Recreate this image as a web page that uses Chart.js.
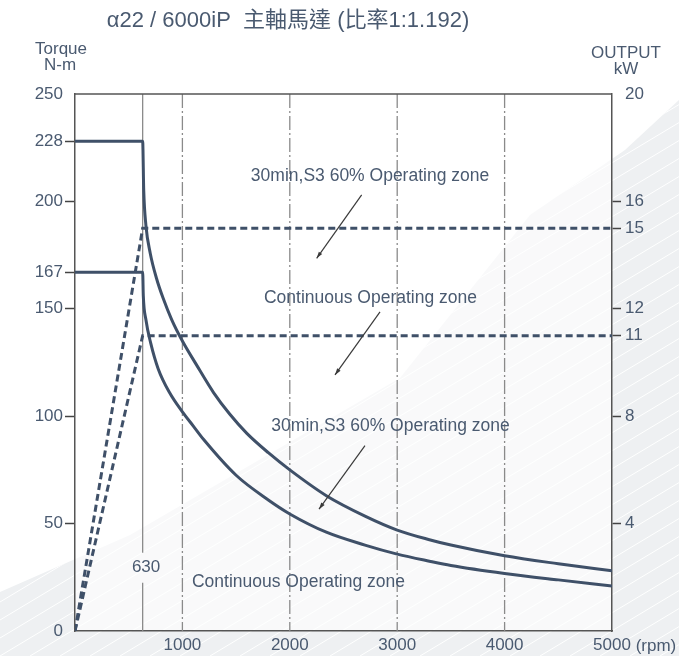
<!DOCTYPE html>
<html>
<head>
<meta charset="utf-8">
<script src="https://cdn.jsdelivr.net/npm/chart.js@4.4.1/dist/chart.umd.min.js"></script>
<style>
html,body{margin:0;padding:0;background:#fff;}
#wrap{width:679px;height:656px;position:relative;}
canvas{display:block;}
</style>
</head>
<body>
<div id="wrap"><canvas id="c" width="679" height="656"></canvas></div>
<script>
// ---- text ----
const titleText = 'α22 / 6000iP  主軸馬達 (比率1:1.192)';
const leftAxisTitle = ['Torque', 'N-m'];
const rightAxisTitle = ['OUTPUT', 'kW'];
const xUnit = '(rpm)';

// ---- ticks ----
const rpmTicks = [1000, 2000, 3000, 4000, 5000];
const torqueTicks = [0, 50, 100, 150, 167, 200, 228, 250];
const powerTicks = [4, 8, 11, 12, 15, 16, 20];

// ---- series: torque (N-m) vs speed (rpm) ----
const s3Rpm    = [0, 630, 640, 660, 700, 760, 820, 900, 1000, 1130, 1290, 1440, 1600, 1800, 2000, 2340, 2700, 3000, 3300, 3500, 4000, 4500, 5000];
const s3Torque = [228, 228, 205, 189, 176, 164, 155, 145, 135, 124, 111, 101, 92, 83, 75, 63, 53.5, 47, 42.5, 40, 35, 31.3, 28];

const contRpm    = [0, 630, 636, 660, 705, 775, 880, 1000, 1100, 1200, 1500, 1800, 2000, 2340, 2700, 3000, 3300, 3500, 4000, 4500, 5000];
const contTorque = [167, 167, 156, 145, 134, 122, 111, 102, 95.5, 89, 72.5, 61, 54.5, 46, 40, 35.8, 32.5, 30.5, 26.8, 23.8, 21];

// ---- series: output (kW) vs speed (rpm) ----
const s3PowerRpm   = [0, 630, 5000];
const s3Power      = [0, 15, 15];
const contPowerRpm = [0, 630, 5000];
const contPower    = [0, 11, 11];

// ---- reference lines ----
const baseRpm = 630;
const gridRpm = [1000, 2000, 3000, 4000];

// ---- annotations (data units: rpm, N-m) ----
const noteTexts  = ['30min,S3 60% Operating zone', 'Continuous Operating zone', '30min,S3 60% Operating zone', 'Continuous Operating zone', '630'];
const noteRpm    = [2747, 2751, 2938, 2081, 662];
const noteTorque = [211.8, 154.9, 95.4, 22.8, 29.5];
const arrowFromRpm    = [2669, 2840, 2700];
const arrowFromTorque = [203.0, 148.6, 86.3];
const arrowToRpm      = [2250, 2421, 2272];
const arrowToTorque   = [173.5, 119.2, 56.7];

const TXT = '#4a5a70';
const LINE = '#3f5068';
const FONT = "'Liberation Sans', Arial, 'Noto Sans CJK TC', sans-serif";

const pts = (xs, ys) => xs.map((x, i) => ({x: x, y: ys[i]}));

const bgPlugin = {
  id: 'bg',
  beforeDraw(chart) {
    const {ctx, width: W, height: H, chartArea: a} = chart;
    ctx.save();
    ctx.fillStyle = '#ffffff';
    ctx.fillRect(0, 0, W, H);
    ctx.beginPath();
    ctx.moveTo(0, 592); ctx.lineTo(130, 535); ctx.lineTo(400, 378); ctx.lineTo(530, 215);
    ctx.lineTo(625, 150); ctx.lineTo(W, 100); ctx.lineTo(W, H); ctx.lineTo(0, H); ctx.closePath();
    ctx.fillStyle = '#eef0f2';
    ctx.fill();
    ctx.clip();
    ctx.strokeStyle = 'rgba(255,255,255,0.95)';
    ctx.lineWidth = 1;
    for (let k = -1200; k < W + 50; k += 30) {
      ctx.beginPath(); ctx.moveTo(k, H); ctx.lineTo(k + H / 0.6, 0); ctx.stroke();
    }
    ctx.restore();
    ctx.save();
    ctx.fillStyle = 'rgba(255,255,255,0.62)';
    ctx.fillRect(a.left, a.top, a.right - a.left, a.bottom - a.top);
    ctx.restore();
  }
};

function seg(ctx, x1, y1, x2, y2) { ctx.beginPath(); ctx.moveTo(x1, y1); ctx.lineTo(x2, y2); ctx.stroke(); }

const gridPlugin = {
  id: 'refgrid',
  beforeDatasetsDraw(chart) {
    const {ctx, chartArea: a} = chart;
    const xs = chart.scales.x, ys = chart.scales.y;
    ctx.save();
    ctx.strokeStyle = '#8a8a8a';
    ctx.lineWidth = 1.3;
    ctx.setLineDash([14, 3, 2, 3]);
    gridRpm.forEach(v => { const px = xs.getPixelForValue(v); seg(ctx, px, a.top, px, a.bottom); });
    ctx.setLineDash([]);
    const bp = xs.getPixelForValue(baseRpm);
    const ly = ys.getPixelForValue(noteTorque[4]);
    seg(ctx, bp, a.top, bp, ly - 15);
    seg(ctx, bp, ly + 15, bp, a.bottom);
    ctx.strokeStyle = '#555';
    ctx.lineWidth = 1.5;
    seg(ctx, a.left, a.top, a.right, a.top);
    ctx.restore();
  }
};

const notePlugin = {
  id: 'notes',
  afterDatasetsDraw(chart) {
    const {ctx} = chart;
    const xs = chart.scales.x, ys = chart.scales.y;
    ctx.save();
    ctx.fillStyle = TXT;
    ctx.textAlign = 'center';
    ctx.textBaseline = 'middle';
    noteTexts.forEach((t, i) => {
      ctx.font = (i === 4 ? '17px ' : '17.5px ') + FONT;
      ctx.fillText(t, xs.getPixelForValue(noteRpm[i]), ys.getPixelForValue(noteTorque[i]));
    });
    ctx.strokeStyle = '#3a3a3a';
    ctx.fillStyle = '#3a3a3a';
    ctx.lineWidth = 1.2;
    arrowFromRpm.forEach((r, i) => {
      const x1 = xs.getPixelForValue(r), y1 = ys.getPixelForValue(arrowFromTorque[i]);
      const x2 = xs.getPixelForValue(arrowToRpm[i]), y2 = ys.getPixelForValue(arrowToTorque[i]);
      seg(ctx, x1, y1, x2, y2);
      const ang = Math.atan2(y2 - y1, x2 - x1), L = 7, w = 0.3;
      ctx.beginPath();
      ctx.moveTo(x2, y2);
      ctx.lineTo(x2 - L * Math.cos(ang - w), y2 - L * Math.sin(ang - w));
      ctx.lineTo(x2 - L * Math.cos(ang + w), y2 - L * Math.sin(ang + w));
      ctx.closePath(); ctx.fill();
    });
    ctx.restore();
  },
  afterDraw(chart) {
    const {ctx, chartArea: a} = chart;
    const xs = chart.scales.x;
    ctx.save();
    ctx.fillStyle = TXT;
    ctx.textBaseline = 'middle';
    ctx.textAlign = 'center';
    ctx.font = '22px ' + FONT;
    ctx.fillText(titleText, 288, 21);
    ctx.font = '17px ' + FONT;
    ctx.fillText(leftAxisTitle[0], a.left - 14, a.top - 45);
    ctx.fillText(leftAxisTitle[1], a.left - 15, a.top - 29);
    ctx.fillText(rightAxisTitle[0], a.right + 14, a.top - 41);
    ctx.fillText(rightAxisTitle[1], a.right + 14, a.top - 25);
    ctx.font = '17px ' + FONT;
    ctx.textAlign = 'left';
    const px = xs.getPixelForValue(5000) + ctx.measureText('5000').width / 2 + ctx.measureText(' ').width;
    ctx.fillText(xUnit, px, 646);
    ctx.restore();
  }
};

const tickFont = {family: FONT, size: 17};

new Chart(document.getElementById('c'), {
  type: 'line',
  data: {
    datasets: [
      {data: pts(s3Rpm, s3Torque), yAxisID: 'y', borderColor: LINE, borderWidth: 3, pointRadius: 0, cubicInterpolationMode: 'monotone', fill: false},
      {data: pts(contRpm, contTorque), yAxisID: 'y', borderColor: LINE, borderWidth: 3, pointRadius: 0, cubicInterpolationMode: 'monotone', fill: false},
      {data: pts(s3PowerRpm, s3Power), yAxisID: 'y2', borderColor: LINE, borderWidth: 3, borderDash: [7, 4], pointRadius: 0, tension: 0, fill: false},
      {data: pts(contPowerRpm, contPower), yAxisID: 'y2', borderColor: LINE, borderWidth: 3, borderDash: [7, 4], pointRadius: 0, tension: 0, fill: false}
    ]
  },
  options: {
    responsive: false,
    animation: false,
    devicePixelRatio: 1,
    layout: {padding: {top: 94, left: 0, right: 0, bottom: 0}},
    plugins: {legend: {display: false}, tooltip: {enabled: false}, title: {display: false}},
    scales: {
      x: {
        type: 'linear', min: 0, max: 5000,
        afterBuildTicks: s => { s.ticks = rpmTicks.map(v => ({value: v})); },
        afterFit: s => { s.height = 25; },
        ticks: {color: TXT, font: tickFont, padding: 4, autoSkip: false, maxRotation: 0, callback: v => String(v)},
        grid: {display: false, drawTicks: false},
        border: {display: true, color: '#555', width: 1.5}
      },
      y: {
        type: 'linear', position: 'left', min: 0, max: 250,
        afterBuildTicks: s => { s.ticks = torqueTicks.map(v => ({value: v})); },
        afterFit: s => { s.width = 75; },
        ticks: {color: TXT, font: tickFont, padding: 2, autoSkip: false, callback: v => String(v)},
        grid: {drawOnChartArea: false, drawTicks: true, tickLength: 10, tickWidth: 1.5,
               tickColor: c => (c.tick && (c.tick.value === 0 || c.tick.value === 250)) ? 'rgba(0,0,0,0)' : '#444'},
        border: {display: true, color: '#555', width: 1.5}
      },
      y2: {
        type: 'linear', position: 'right', min: 0, max: 20,
        afterBuildTicks: s => { s.ticks = powerTicks.map(v => ({value: v})); },
        afterFit: s => { s.width = 67; },
        ticks: {color: TXT, font: tickFont, padding: 4, autoSkip: false, callback: v => String(v)},
        grid: {drawOnChartArea: false, drawTicks: true, tickLength: 9, tickWidth: 1.5,
               tickColor: c => (c.tick && c.tick.value === 20) ? 'rgba(0,0,0,0)' : '#444'},
        border: {display: true, color: '#555', width: 1.5}
      }
    }
  },
  plugins: [bgPlugin, gridPlugin, notePlugin]
});
</script>
</body>
</html>
